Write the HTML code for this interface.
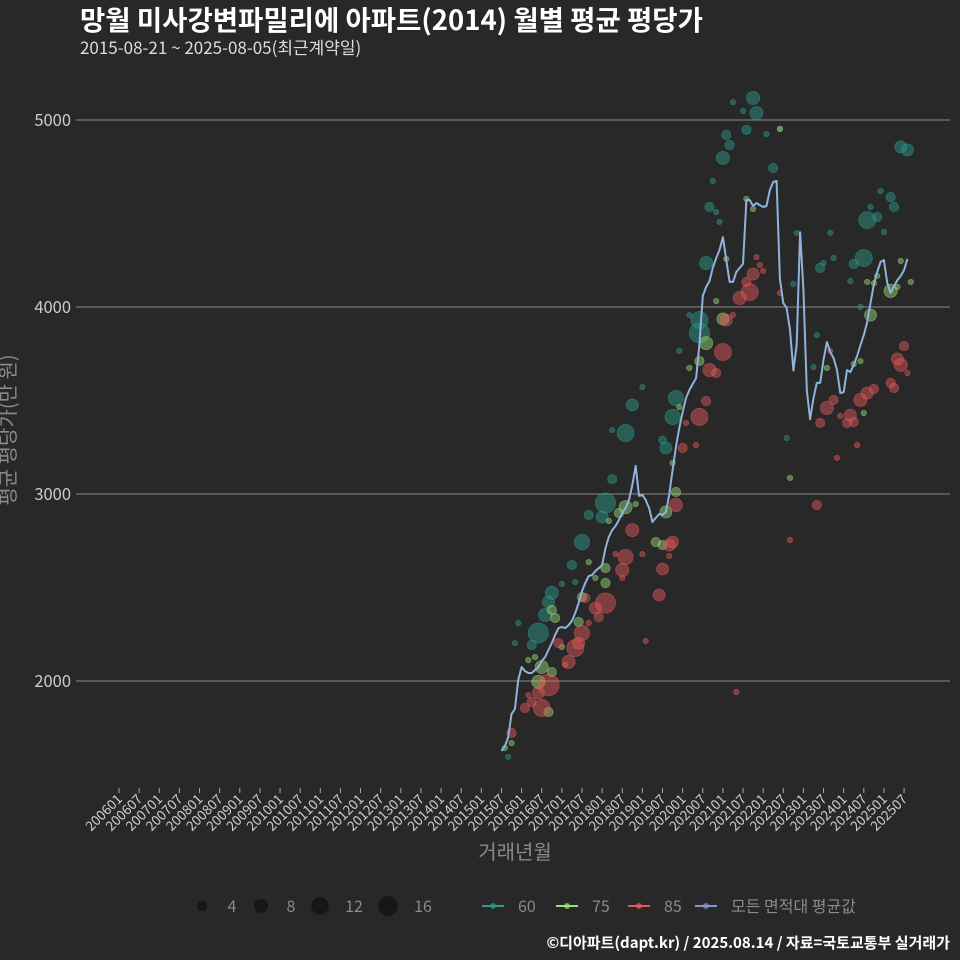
<!DOCTYPE html>
<html><head><meta charset="utf-8">
<style>
html,body{margin:0;padding:0;background:#282828;}
svg{display:block;font-family:"Noto Sans CJK KR","Liberation Sans",sans-serif;}
</style></head>
<body>
<svg id="chart" width="960" height="960" viewBox="0 0 960 960">
<rect width="960" height="960" fill="#282828"/>
<text x="80" y="30" fill="#ffffff" font-size="27.5" font-weight="bold">망월 미사강변파밀리에 아파트(2014) 월별 평균 평당가</text>
<text x="80" y="54" fill="#dddddd" font-size="17">2015-08-21 ~ 2025-08-05(최근계약일)</text>
<g id="grid"></g>
<g id="xaxis"></g>
<g id="marks"></g>
<text x="15" y="430" fill="#8a8a8a" font-size="20" text-anchor="middle" transform="rotate(-90 15 430)">평균 평당가(만 원)</text>
<text x="515" y="859" fill="#8a8a8a" font-size="20" text-anchor="middle">거래년월</text>
<g id="legend"></g>
<text x="950" y="948" fill="#ffffff" font-size="15" font-weight="bold" text-anchor="end">©디아파트(dapt.kr) / 2025.08.14 / 자료=국토교통부 실거래가</text>
</svg>
<script>
const yTicks = [2000, 3000, 4000, 5000];
const xTickLabels = [];
for (let y = 2006; y <= 2025; y++) { xTickLabels.push(y + '01'); xTickLabels.push(y + '07'); }
// line: monthly mean, starting 2015-07 (month index 114 from 2006-01)
const lineStartMonth = 114;
const lineValues = [1626,1650,1700,1823,1850,2005,2075,2053,2043,2043,2059,2075,2107,2128,2166,2203,2246,2283,2289,2283,2299,2321,2364,2417,2481,2524,2561,2567,2588,2604,2620,2711,2770,2807,2829,2861,2898,2925,2968,3048,3150,2990,2995,2968,2925,2850,2872,2893,2888,2904,2995,3128,3251,3353,3438,3513,3556,3588,3620,3800,4059,4107,4139,4209,4262,4305,4374,4251,4134,4134,4187,4209,4230,4572,4572,4540,4556,4545,4535,4540,4626,4668,4674,4150,4021,3995,3877,3660,3800,4400,4096,3556,3400,3513,3594,3594,3717,3813,3759,3727,3663,3540,3545,3663,3652,3690,3738,3797,3850,3920,4021,4123,4187,4241,4251,4128,4075,4112,4144,4166,4198,4257];
// scatter: [monthIndex, value, count]
const s60 = [[116,1594,1],[118,2203,1],[119,2310,1],[123,2193,3],[125,2257,14],[127,2353,6],[128,2422,5],[129,2471,6],[132,2519,1],[135,2620,3],[136,2529,1],[138,2743,8],[140,2888,3],[144,2877,5],[145,2952,14],[147,3080,3],[147,3342,1],[151,3326,10],[153,3476,5],[156,3572,1],[162,3289,2],[163,3246,5],[165,3412,8],[166,3513,8],[167,3765,1],[170,3957,1],[173,3930,10],[173,3861,14],[175,4235,6],[176,4535,3],[177,4674,1],[178,4508,1],[179,4455,1],[180,4797,6],[181,4920,3],[182,4866,3],[183,5096,1],[186,5048,1],[187,4947,3],[189,5118,6],[190,5037,6],[193,4925,1],[195,4743,3],[197,4952,1],[199,3299,1],[201,4123,1],[202,4396,1],[207,3679,1],[208,3850,1],[209,4209,3],[210,4235,1],[212,4396,1],[213,4262,1],[218,4139,1],[219,4230,3],[221,4000,1],[222,4262,10],[223,4465,10],[224,4535,1],[226,4481,3],[227,4620,1],[228,4401,1],[230,4588,3],[231,4535,3],[233,4856,5],[235,4840,5]];
const s75 = [[115,1642,1],[117,1668,1],[122,2112,1],[124,2128,1],[125,1995,6],[126,2075,6],[128,1834,3],[129,2048,3],[129,2380,3],[130,2337,3],[132,2182,1],[137,2316,3],[138,2449,3],[140,2636,1],[142,2551,1],[145,2524,3],[145,2604,3],[146,2856,1],[149,2898,3],[151,2930,6],[154,2946,1],[160,2743,3],[162,2727,3],[163,2904,5],[165,3166,1],[166,3011,3],[167,3465,1],[170,3674,1],[173,3711,3],[175,3807,6],[178,4032,1],[180,3936,5],[181,4257,1],[187,4578,1],[189,4524,1],[197,4952,1],[200,3086,1],[211,3674,1],[219,3695,1],[221,3711,1],[222,3433,1],[223,4134,1],[224,3957,5],[225,4128,1],[226,4166,1],[230,4086,6],[232,4107,1],[233,4246,1],[236,4134,1]];
const s85 = [[117,1722,3],[121,1856,3],[122,1925,1],[123,1888,3],[125,1936,5],[126,1856,10],[128,1979,16],[131,2203,3],[133,2086,1],[134,2102,6],[136,2176,10],[137,2203,5],[138,2257,8],[139,2444,3],[140,2310,1],[142,2390,5],[143,2342,3],[145,2417,14],[148,2679,1],[150,2594,6],[150,2551,1],[151,2663,8],[153,2807,6],[156,2679,1],[157,2214,1],[161,2460,5],[162,2599,5],[164,2727,5],[164,2668,1],[165,2743,5],[166,2941,6],[168,3246,3],[169,3380,1],[172,3262,1],[173,3412,10],[175,3497,3],[176,3663,6],[178,3647,3],[180,3759,10],[181,3930,5],[183,3957,1],[184,1941,1],[185,4048,6],[187,4134,3],[188,4080,10],[189,4176,5],[190,4267,1],[191,4225,1],[192,4193,1],[197,4075,1],[200,2754,1],[208,2941,3],[209,3380,3],[211,3460,6],[212,3765,1],[213,3503,3],[214,3193,1],[215,3417,1],[217,3380,3],[218,3422,5],[219,3385,3],[220,3262,1],[221,3503,6],[223,3540,5],[225,3561,3],[230,3594,3],[231,3567,3],[232,3722,5],[233,3690,6],[234,3791,3],[235,3647,1]];
const sizeLegend = [4, 8, 12, 16];
const seriesNames = ['60', '75', '85', '모든 면적대 평균값'];

const NS = 'http://www.w3.org/2000/svg';
function xPos(k){ return 119 + k * 3.355; }
function yPos(v){ return 120 + (5000 - v) * 0.187; }
function rad(n){ return 2.7 * Math.sqrt(n); }
function mk(tag, attrs, parent){ const e = document.createElementNS(NS, tag); for (const k in attrs) e.setAttribute(k, attrs[k]); parent.appendChild(e); return e; }

const grid = document.getElementById('grid');
yTicks.forEach(v => {
  const l = mk('line', {x1:80, x2:950, y1:yPos(v), y2:yPos(v), stroke:'#8a8a8a', 'stroke-width':1}, grid);
  
  
  const t = mk('line', {x1:76, x2:80, y1:yPos(v), y2:yPos(v), stroke:'#8a8a8a'}, grid);
  
  
  const tx = mk('text', {x:71, y:yPos(v)+6, fill:'#cccccc', 'font-size':16.5, 'text-anchor':'end'}, grid);
  tx.textContent = v;
  
  
});

const xa = document.getElementById('xaxis');
xTickLabels.forEach((lab, i) => {
  const x = xPos(i * 6);
  const t = mk('line', {x1:x, x2:x, y1:788, y2:793, stroke:'#aaaaaa'}, xa);
  
  
  const tx = mk('text', {x:x+4, y:800, fill:'#cccccc', 'font-size':13.5, 'text-anchor':'end', transform:'rotate(-45 '+(x+4)+' 800)'}, xa);
  tx.textContent = lab;
  
  
});

const marks = document.getElementById('marks');
const colors = {s60:'#2a9d8f', s75:'#9be07a', s85:'#e8585a'};
[['s60', s60], ['s75', s75], ['s85', s85]].forEach(([key, arr]) => {
  arr.forEach(p => {
    const c = mk('circle', {cx:xPos(p[0]), cy:yPos(p[1]), r:rad(p[2]), fill:colors[key], 'fill-opacity':0.45, stroke:colors[key], 'stroke-opacity':0.5, 'stroke-width':0.8}, marks);
    
    
  });
});
const pts = lineValues.map((v, i) => xPos(lineStartMonth + i).toFixed(1) + ',' + yPos(v).toFixed(1)).join(' ');
const pl = mk('polyline', {points:pts, fill:'none', stroke:'#8fb3dc', 'stroke-width':2, 'stroke-linejoin':'round'}, marks);



const lg = document.getElementById('legend');
const sizeX = [202, 261, 320, 388];
sizeLegend.forEach((n, i) => {
  const c = mk('circle', {cx:sizeX[i], cy:906, r:2.5*Math.sqrt(n), fill:'#161616'}, lg);
  
  
  const t = mk('text', {x:sizeX[i] + (i<2?30:i==2?34:35), y:912, fill:'#8a8a8a', 'font-size':16, 'text-anchor':'middle'}, lg);
  t.textContent = n;
  
  
});
const serColors = ['#2a9d8f', '#9be07a', '#e8585a', '#7f9cc8'];
const serX = [482, 556, 628, 695];
seriesNames.forEach((nm, i) => {
  const x = serX[i];
  const l = mk('line', {x1:x, x2:x+22, y1:906, y2:906, stroke:serColors[i], 'stroke-width':2}, lg);
  
  
  const c = mk('circle', {cx:x+11, cy:906, r:3, fill:serColors[i], 'fill-opacity':0.7}, lg);
  
  
  const t = mk('text', {x:x+36, y:912, fill:'#8a8a8a', 'font-size':16}, lg);
  t.textContent = nm;
  
  
});
</script>
</body></html>
